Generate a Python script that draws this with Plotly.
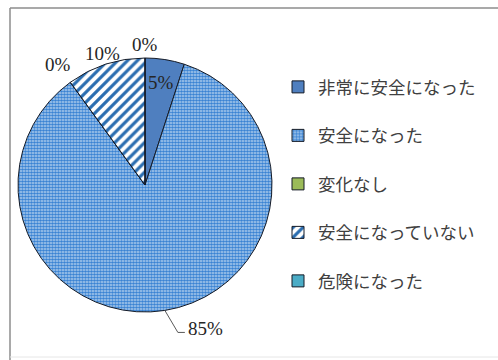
import math
import plotly.graph_objects as go

# ---- data ----
categories = ["非常に安全になった", "安全になった", "変化なし", "安全になっていない", "危険になった"]
values = [5, 85, 0, 10, 0]
colors = ["#4F7FBF", "#5B93D3", "#9BBB59", "#2E74B5", "#4BACC6"]

W, H = 498, 360
CX, CY, R = 145, 185, 127

def px(x):
    return x / W

def py(y):
    return 1 - y / H

patterns = [
    dict(shape="", fillmode="replace"),
    dict(shape=".", fgcolor="#3A83D3", bgcolor="#B4D0EE", size=3, solidity=0.65, fillmode="replace"),
    dict(shape="", fillmode="replace"),
    dict(shape="/", fgcolor="#2A6DB0", bgcolor="#FFFFFF", size=7, solidity=0.45, fillmode="replace"),
    dict(shape="", fillmode="replace"),
]

legend_labels = [c + "<br> " for c in categories]

fig = go.Figure()
fig.add_trace(go.Pie(
    labels=legend_labels,
    values=values,
    customdata=categories,
    sort=False,
    direction="clockwise",
    rotation=0,
    textinfo="none",
    hovertemplate="%{customdata}: %{percent}<extra></extra>",
    marker=dict(
        colors=colors,
        line=dict(color="#141A26", width=1),
        pattern=dict(
            shape=[p["shape"] for p in patterns],
            fgcolor=[p.get("fgcolor", "#000") for p in patterns],
            bgcolor=[p.get("bgcolor", c) for p, c in zip(patterns, colors)],
            size=[p.get("size", 8) for p in patterns],
            solidity=[p.get("solidity", 0.5) for p in patterns],
            fillmode="replace",
        ),
    ),
    domain=dict(x=[px(CX - R), px(CX + R)], y=[py(CY + R), py(CY - R)]),
    showlegend=True,
))

# ---- data labels computed from slice angles ----
total = sum(values)
label_factor = [0.82, None, 1.17, 1.09, 1.11]
annotations = []
shapes = []
cum = 0
label_font = dict(family="Liberation Serif, DejaVu Serif, serif", size=19, color="#262626")
for i, v in enumerate(values):
    start = cum
    cum += v
    mid = 2 * math.pi * (start + v / 2) / total
    pct = f"{round(100 * v / total)}%"
    if label_factor[i] is not None:
        r = R * label_factor[i]
        x = CX + r * math.sin(mid)
        y = CY - r * math.cos(mid)
        annotations.append(dict(x=px(x), y=py(y), xref="paper", yref="paper", text=pct,
                                showarrow=False, font=label_font, xanchor="center", yanchor="middle"))
    else:
        ex = CX + R * math.sin(mid)
        ey = CY - R * math.cos(mid)
        bx, by = ex + 13, ey + 22
        tx = bx + 7
        shapes.append(dict(type="path", xref="paper", yref="paper",
                           path=f"M {px(ex)},{py(ey)} L {px(bx)},{py(by)} L {px(tx)},{py(by)}",
                           line=dict(color="#595959", width=1)))
        annotations.append(dict(x=px(tx + 1), y=py(by - 4), xref="paper", yref="paper", text=pct,
                                showarrow=False, font=label_font, xanchor="left", yanchor="middle"))

# chart frame
shapes.append(dict(type="line", xref="paper", yref="paper", x0=px(10), x1=1, y0=py(8), y1=py(8),
                   line=dict(color="#8C8C8C", width=1.5)))
shapes.append(dict(type="line", xref="paper", yref="paper", x0=px(10), x1=px(10), y0=py(8), y1=0,
                   line=dict(color="#8C8C8C", width=1.5)))
shapes.append(dict(type="line", xref="paper", yref="paper", x0=px(10), x1=1, y0=py(357), y1=py(357),
                   line=dict(color="#E6E6E6", width=1)))

fig.update_layout(
    width=W, height=H,
    margin=dict(l=0, r=0, t=0, b=0),
    paper_bgcolor="white",
    plot_bgcolor="white",
    shapes=shapes,
    annotations=annotations,
    legend=dict(
        x=px(278), y=py(69), xanchor="left", yanchor="top",
        font=dict(family="Noto Sans CJK JP", size=17.5, color="#404040"),
        valign="top",
        bgcolor="rgba(0,0,0,0)",
        traceorder="normal",
    ),
)

fig.write_html("out.html")
